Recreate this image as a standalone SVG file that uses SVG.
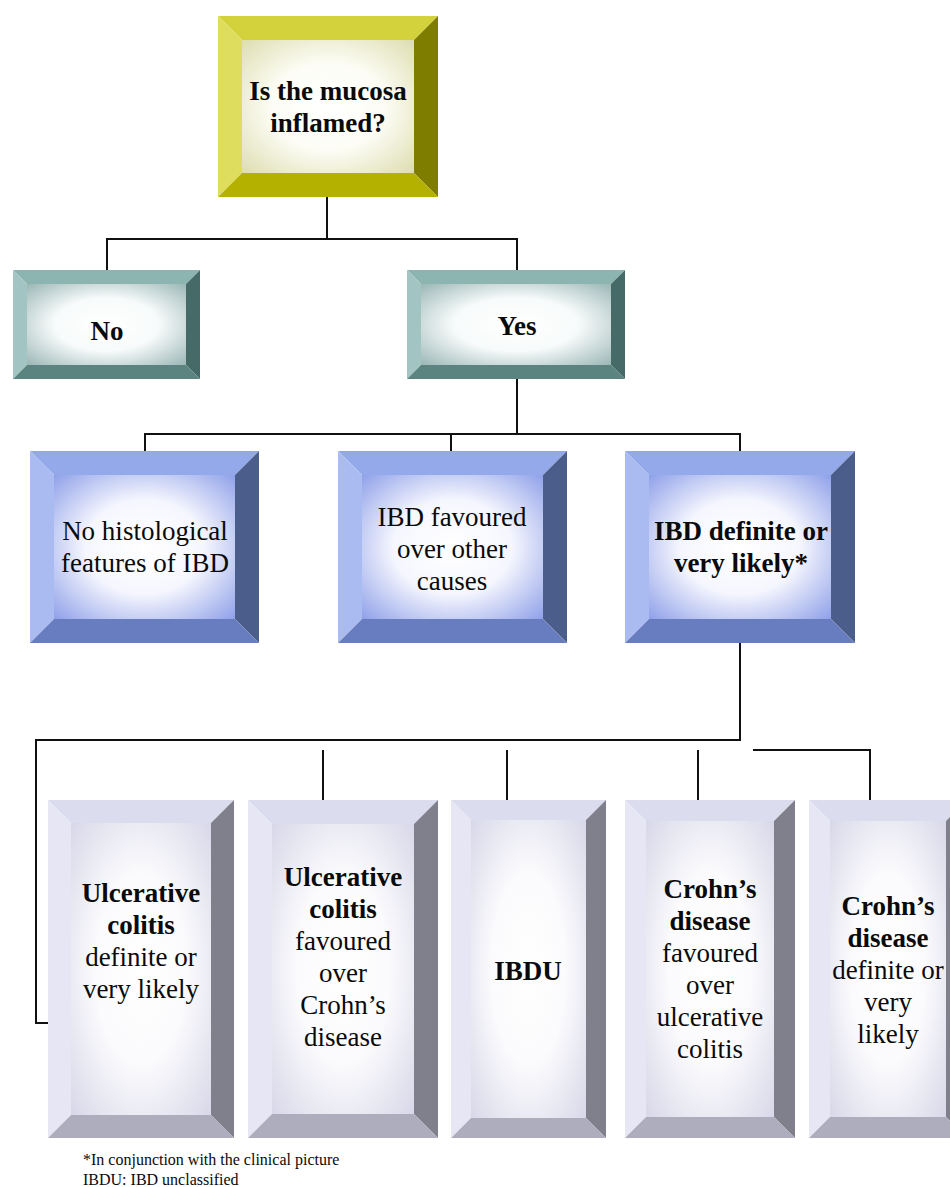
<svg xmlns="http://www.w3.org/2000/svg" width="950" height="1187" viewBox="0 0 950 1187">
<style>
text{font-family:"Liberation Serif","Times New Roman",serif;font-size:27px;fill:#0a0a0a;text-anchor:middle}
.b{font-weight:bold}
.fn{font-size:16px;text-anchor:start}
.conn{fill:none;stroke:#111;stroke-width:2}
.yT{fill:#d4d23c}.yL{fill:#dfdd5e}.yR{fill:#7f7d00}.yB{fill:#b4b100}
.tT{fill:#8cb4b1}.tL{fill:#a2c4c2}.tR{fill:#466a68}.tB{fill:#5b837f}
.uT{fill:#94a9ea}.uL{fill:#a9bbf0}.uR{fill:#4b5d8b}.uB{fill:#687dbf}
.lT{fill:#dcdcef}.lL{fill:#e6e6f4}.lR{fill:#7f808b}.lB{fill:#adadbd}
</style>
<defs>
<radialGradient id="gY" cx="50%" cy="50%" r="72%"><stop offset="0" stop-color="#fff"/><stop offset="0.45" stop-color="#fdfdf6"/><stop offset="1" stop-color="#dcdcae"/></radialGradient>
<radialGradient id="gT" cx="50%" cy="50%" r="72%"><stop offset="0" stop-color="#fff"/><stop offset="0.45" stop-color="#f8fbfb"/><stop offset="1" stop-color="#97b4b3"/></radialGradient>
<radialGradient id="gU" cx="50%" cy="50%" r="72%"><stop offset="0" stop-color="#fff"/><stop offset="0.45" stop-color="#f6f7fe"/><stop offset="1" stop-color="#8b9de8"/></radialGradient>
<radialGradient id="gL" cx="50%" cy="50%" r="72%"><stop offset="0" stop-color="#fff"/><stop offset="0.45" stop-color="#fbfbfd"/><stop offset="1" stop-color="#d6d6e8"/></radialGradient>
</defs>

<g id="connectors">
<path class="conn" d="M327 197V239M107 239H517M107 238V270M517 238V270"/>
<path class="conn" d="M517 379V434M145 434H740M145 433V451M451 433V451M740 433V451"/>
<path class="conn" d="M740 643V740H36V1023H48"/>
<path class="conn" d="M323 750V800M507 750V800M698 750V800M753 750H870V800"/>
</g>

<g id="node-question">
<polygon class="yT" points="218,16 438,16 414,40 242,40"/>
<polygon class="yL" points="218,16 242,40 242,173 218,197"/>
<polygon class="yR" points="438,16 438,197 414,173 414,40"/>
<polygon class="yB" points="218,197 438,197 414,173 242,173"/>
<rect x="242" y="40" width="172" height="133" fill="url(#gY)"/>
<text class="b" x="328" y="100">Is the mucosa</text>
<text class="b" x="328" y="132">inflamed?</text>
</g>

<g id="node-no">
<polygon class="tT" points="13,270 200,270 186,284 27,284"/>
<polygon class="tL" points="13,270 27,284 27,365 13,379"/>
<polygon class="tR" points="200,270 200,379 186,365 186,284"/>
<polygon class="tB" points="13,379 200,379 186,365 27,365"/>
<rect x="27" y="284" width="159" height="81" fill="url(#gT)"/>
<text class="b" x="107" y="340">No</text>
</g>

<g id="node-yes">
<polygon class="tT" points="407,270 625,270 611,284 421,284"/>
<polygon class="tL" points="407,270 421,284 421,365 407,379"/>
<polygon class="tR" points="625,270 625,379 611,365 611,284"/>
<polygon class="tB" points="407,379 625,379 611,365 421,365"/>
<rect x="421" y="284" width="190" height="81" fill="url(#gT)"/>
<text class="b" x="517" y="335">Yes</text>
</g>

<g id="node-no-features">
<polygon class="uT" points="30,451 259,451 235,475 54,475"/>
<polygon class="uL" points="30,451 54,475 54,619 30,643"/>
<polygon class="uR" points="259,451 259,643 235,619 235,475"/>
<polygon class="uB" points="30,643 259,643 235,619 54,619"/>
<rect x="54" y="475" width="181" height="144" fill="url(#gU)"/>
<text x="145" y="540">No histological</text>
<text x="145" y="572">features of IBD</text>
</g>

<g id="node-ibd-favoured">
<polygon class="uT" points="338,451 567,451 543,475 362,475"/>
<polygon class="uL" points="338,451 362,475 362,619 338,643"/>
<polygon class="uR" points="567,451 567,643 543,619 543,475"/>
<polygon class="uB" points="338,643 567,643 543,619 362,619"/>
<rect x="362" y="475" width="181" height="144" fill="url(#gU)"/>
<text x="452" y="526">IBD favoured</text>
<text x="452" y="558">over other</text>
<text x="452" y="590">causes</text>
</g>

<g id="node-ibd-definite">
<polygon class="uT" points="625,451 855,451 831,475 649,475"/>
<polygon class="uL" points="625,451 649,475 649,619 625,643"/>
<polygon class="uR" points="855,451 855,643 831,619 831,475"/>
<polygon class="uB" points="625,643 855,643 831,619 649,619"/>
<rect x="649" y="475" width="182" height="144" fill="url(#gU)"/>
<text class="b" x="741" y="540">IBD definite or</text>
<text class="b" x="741" y="572">very likely*</text>
</g>

<g id="node-uc-definite">
<polygon class="lT" points="48,800 234,800 211,823 71,823"/>
<polygon class="lL" points="48,800 71,823 71,1115 48,1138"/>
<polygon class="lR" points="234,800 234,1138 211,1115 211,823"/>
<polygon class="lB" points="48,1138 234,1138 211,1115 71,1115"/>
<rect x="71" y="823" width="140" height="292" fill="url(#gL)"/>
<text class="b" x="141" y="902">Ulcerative</text>
<text class="b" x="141" y="934">colitis</text>
<text x="141" y="966">definite or</text>
<text x="141" y="998">very likely</text>
</g>

<g id="node-uc-favoured">
<polygon class="lT" points="248,800 438,800 414,824 272,824"/>
<polygon class="lL" points="248,800 272,824 272,1114 248,1138"/>
<polygon class="lR" points="438,800 438,1138 414,1114 414,824"/>
<polygon class="lB" points="248,1138 438,1138 414,1114 272,1114"/>
<rect x="272" y="824" width="142" height="290" fill="url(#gL)"/>
<text class="b" x="343" y="886">Ulcerative</text>
<text class="b" x="343" y="918">colitis</text>
<text x="343" y="950">favoured</text>
<text x="343" y="982">over</text>
<text x="343" y="1014">Crohn’s</text>
<text x="343" y="1046">disease</text>
</g>

<g id="node-ibdu">
<polygon class="lT" points="451,800 606,800 586,820 471,820"/>
<polygon class="lL" points="451,800 471,820 471,1118 451,1138"/>
<polygon class="lR" points="606,800 606,1138 586,1118 586,820"/>
<polygon class="lB" points="451,1138 606,1138 586,1118 471,1118"/>
<rect x="471" y="820" width="115" height="298" fill="url(#gL)"/>
<text class="b" x="528" y="980">IBDU</text>
</g>

<g id="node-cd-favoured">
<polygon class="lT" points="625,800 795,800 774,821 646,821"/>
<polygon class="lL" points="625,800 646,821 646,1117 625,1138"/>
<polygon class="lR" points="795,800 795,1138 774,1117 774,821"/>
<polygon class="lB" points="625,1138 795,1138 774,1117 646,1117"/>
<rect x="646" y="821" width="128" height="296" fill="url(#gL)"/>
<text class="b" x="710" y="898">Crohn’s</text>
<text class="b" x="710" y="930">disease</text>
<text x="710" y="962">favoured</text>
<text x="710" y="994">over</text>
<text x="710" y="1026">ulcerative</text>
<text x="710" y="1058">colitis</text>
</g>

<g id="node-cd-definite">
<polygon class="lT" points="809,800 967,800 946,821 830,821"/>
<polygon class="lL" points="809,800 830,821 830,1117 809,1138"/>
<polygon class="lR" points="967,800 967,1138 946,1117 946,821"/>
<polygon class="lB" points="809,1138 967,1138 946,1117 830,1117"/>
<rect x="830" y="821" width="116" height="296" fill="url(#gL)"/>
<text class="b" x="888" y="915">Crohn’s</text>
<text class="b" x="888" y="947">disease</text>
<text x="888" y="979">definite or</text>
<text x="888" y="1011">very</text>
<text x="888" y="1043">likely</text>
</g>

<g id="footnote">
<text class="fn" x="83" y="1165">*In conjunction with the clinical picture</text>
<text class="fn" x="83" y="1185">IBDU: IBD unclassified</text>
</g>
</svg>
